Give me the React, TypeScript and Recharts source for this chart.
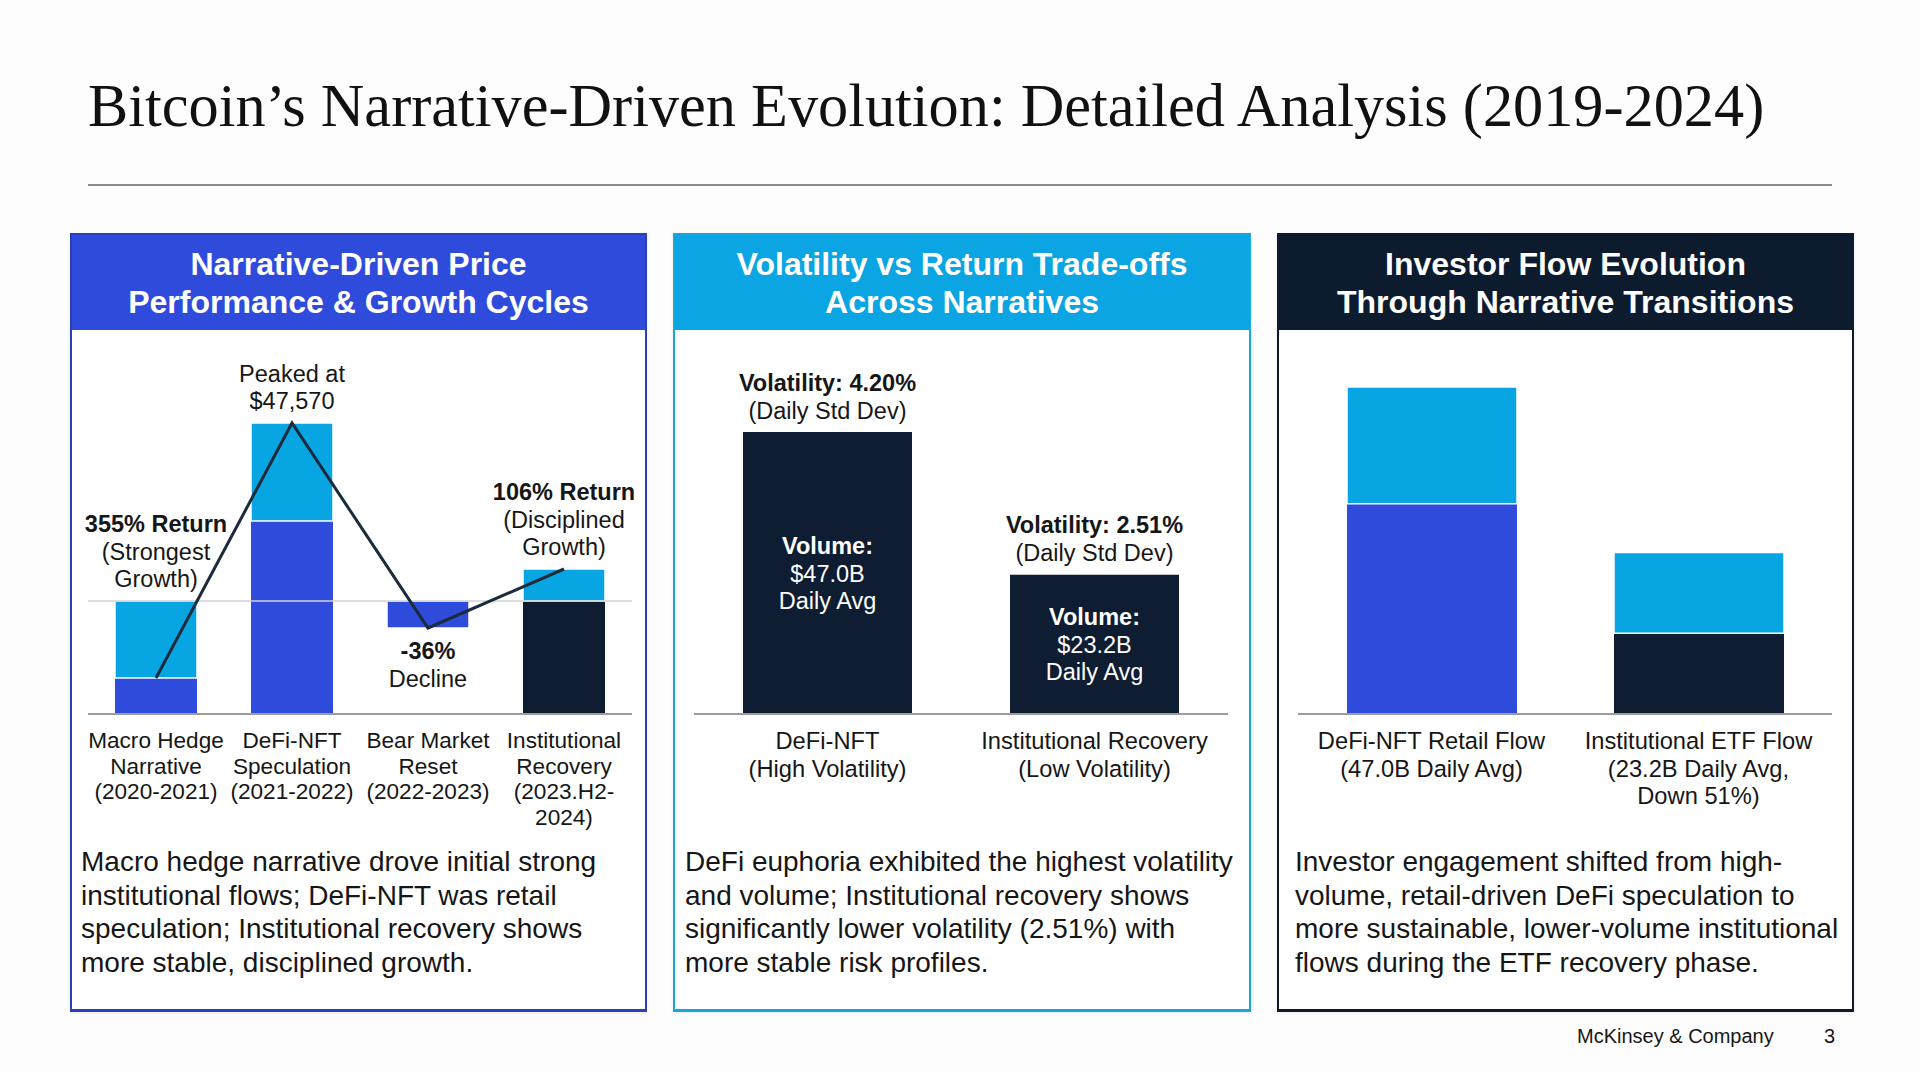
import React from 'react';
import { ComposedChart, BarChart, Bar, Line, XAxis, YAxis, Cell, LabelList, ReferenceLine } from 'recharts';

const ROYAL = '#2E4BDB';
const SKY = '#07A6E3';
const NAVY = '#0E1D32';
const INK = '#161616';
const SANS = '"Liberation Sans", Arial, sans-serif';
const SERIF = '"Liberation Serif", "Times New Roman", serif';

// Narrative cycles: relative price index split into base and growth segments
const cycleNames = [
  'Macro Hedge|Narrative|(2020-2021)',
  'DeFi-NFT|Speculation|(2021-2022)',
  'Bear Market|Reset|(2022-2023)',
  'Institutional|Recovery|(2023.H2-|2024)',
];
const cycleBase = [36, 193, 86, 113];
const cycleGrowth = [77, 98, 27, 32];
const cyclePrice = [36, 291, 86, 145];
const cycleZero = 113;
const cycleBaseColors = [ROYAL, ROYAL, 'transparent', NAVY];
const cycleGrowthColors = [SKY, SKY, ROYAL, SKY];
const cycleNotes = [
  ['355% Return', '(Strongest', 'Growth)'],
  ['Peaked at', '$47,570'],
  ['-36%', 'Decline'],
  ['106% Return', '(Disciplined', 'Growth)'],
];
const cycleNoteBold = [true, false, true, true];
const cycleNoteBelow = [false, false, true, false];

// Volatility vs volume
const volNames = ['DeFi-NFT|(High Volatility)', 'Institutional Recovery|(Low Volatility)'];
const volVolume = [47.0, 23.2];
const volStdDev = ['4.20%', '2.51%'];

// Investor flows (B, daily avg)
const flowNames = ['DeFi-NFT Retail Flow|(47.0B Daily Avg)', 'Institutional ETF Flow|(23.2B Daily Avg,|Down 51%)'];
const flowLower = [30.2, 11.6];
const flowUpper = [16.8, 11.6];
const flowLowerColors = [ROYAL, NAVY];

const panels = [
  {
    left: 70,
    width: 577,
    color: ROYAL,
    border: '#2A40B8',
    title: ['Narrative-Driven Price', 'Performance & Growth Cycles'],
    inset: 11,
    body: [
      'Macro hedge narrative drove initial strong',
      'institutional flows; DeFi-NFT was retail',
      'speculation; Institutional recovery shows',
      'more stable, disciplined growth.',
    ],
  },
  {
    left: 673,
    width: 578,
    color: '#0AA5E2',
    border: '#16A8DA',
    title: ['Volatility vs Return Trade-offs', 'Across Narratives'],
    inset: 12,
    body: [
      'DeFi euphoria exhibited the highest volatility',
      'and volume; Institutional recovery shows',
      'significantly lower volatility (2.51%) with',
      'more stable risk profiles.',
    ],
  },
  {
    left: 1277,
    width: 577,
    color: '#0D1B2E',
    border: '#0D1B2E',
    title: ['Investor Flow Evolution', 'Through Narrative Transitions'],
    inset: 18,
    body: [
      'Investor engagement shifted from high-',
      'volume, retail-driven DeFi speculation to',
      'more sustainable, lower-volume institutional',
      'flows during the ETF recovery phase.',
    ],
  },
];

const cycleData = cycleNames.map((name, i) => ({
  name,
  base: cycleBase[i],
  growth: cycleGrowth[i],
  price: cyclePrice[i],
}));
const volData = volNames.map((name, i) => ({ name, volume: volVolume[i] }));
const flowData = flowNames.map((name, i) => ({ name, lower: flowLower[i], upper: flowUpper[i] }));

const MultiLineTick = (props: any) => {
  const { x, y, payload, fontSize, first, step } = props;
  const lines = String(payload.value).split('|');
  return (
    <text x={x} y={y} textAnchor="middle" fontSize={fontSize} fill={INK} fontFamily={SANS}>
      {lines.map((l, i) => (
        <tspan key={i} x={x} y={y + first + i * step}>
          {l}
        </tspan>
      ))}
    </text>
  );
};

const box = (p: any) => {
  const vb = p.viewBox && p.viewBox.width != null ? p.viewBox : p;
  return { x: Number(vb.x), y: Number(vb.y), w: Number(vb.width), h: Number(vb.height) };
};

const CycleNote = (props: any) => {
  const { index } = props;
  const { x, y, w, h } = box(props);
  const cx = x + w / 2;
  const lines = cycleNotes[index];
  const step = 27.5;
  const startY = cycleNoteBelow[index] ? y + h + 31 : y - 14 - (lines.length - 1) * step;
  return (
    <text x={cx} y={startY} textAnchor="middle" fontSize={23.5} fill={INK} fontFamily={SANS}>
      {lines.map((l, i) => (
        <tspan key={i} x={cx} y={startY + i * step} fontWeight={i === 0 && cycleNoteBold[index] ? 700 : 400}>
          {l}
        </tspan>
      ))}
    </text>
  );
};

const VolumeNote = (props: any) => {
  const { index } = props;
  const { x, y, w, h } = box(props);
  const cx = x + w / 2;
  const mid = y + h / 2;
  return (
    <g fontFamily={SANS} fontSize={23.5} textAnchor="middle">
      <text x={cx} y={y - 41.5} fill={INK} fontWeight={700}>
        {`Volatility: ${volStdDev[index]}`}
      </text>
      <text x={cx} y={y - 13.5} fill={INK}>
        (Daily Std Dev)
      </text>
      <text x={cx} y={mid - 19.5} fill="#fff" fontWeight={700}>
        Volume:
      </text>
      <text x={cx} y={mid + 8.5} fill="#fff">
        {`$${volVolume[index].toFixed(1)}B`}
      </text>
      <text x={cx} y={mid + 36} fill="#fff">
        Daily Avg
      </text>
    </g>
  );
};

const axisLine = { stroke: '#9c9c9c', strokeWidth: 2 };

const CycleChart = () => (
  <ComposedChart width={577} height={520} data={cycleData} margin={{ top: 84, right: 15, left: 18, bottom: 0 }} barSize={82}>
    <XAxis
      dataKey="name"
      interval={0}
      height={136}
      tickLine={false}
      tickSize={0}
      tickMargin={0}
      axisLine={axisLine}
      tick={(p: any) => <MultiLineTick {...p} fontSize={22.6} first={34} step={25.7} />}
    />
    <YAxis hide domain={[0, 300]} />
    <Bar dataKey="base" stackId="c" isAnimationActive={false}>
      {cycleData.map((_, i) => (
        <Cell key={i} fill={cycleBaseColors[i]} />
      ))}
    </Bar>
    <Bar dataKey="growth" stackId="c" stroke="#ffffff" strokeWidth={1.5} isAnimationActive={false}>
      {cycleData.map((_, i) => (
        <Cell key={i} fill={cycleGrowthColors[i]} />
      ))}
      <LabelList dataKey="growth" content={(p: any) => <CycleNote {...p} />} />
    </Bar>
    <ReferenceLine y={cycleZero} stroke="#d2d2d2" strokeWidth={1.5} />
    <Line
      type="linear"
      dataKey="price"
      stroke="#1B2A3C"
      strokeWidth={3}
      dot={false}
      activeDot={false}
      isAnimationActive={false}
    />
  </ComposedChart>
);

const VolatilityChart = () => (
  <BarChart width={578} height={520} data={volData} margin={{ top: 84, right: 23, left: 21, bottom: 0 }} barSize={169}>
    <XAxis
      dataKey="name"
      interval={0}
      height={136}
      tickLine={false}
      tickSize={0}
      tickMargin={0}
      axisLine={axisLine}
      tick={(p: any) => <MultiLineTick {...p} fontSize={23.7} first={35} step={27.6} />}
    />
    <YAxis hide domain={[0, 50]} />
    <Bar dataKey="volume" fill={NAVY} isAnimationActive={false}>
      <LabelList dataKey="volume" content={(p: any) => <VolumeNote {...p} />} />
    </Bar>
  </BarChart>
);

const FlowChart = () => (
  <BarChart width={577} height={520} data={flowData} margin={{ top: 36, right: 22, left: 21, bottom: 0 }} barSize={170}>
    <XAxis
      dataKey="name"
      interval={0}
      height={136}
      tickLine={false}
      tickSize={0}
      tickMargin={0}
      axisLine={axisLine}
      tick={(p: any) => <MultiLineTick {...p} fontSize={23.7} first={35} step={27.6} />}
    />
    <YAxis hide domain={[0, 50]} />
    <Bar dataKey="lower" stackId="f" isAnimationActive={false}>
      {flowData.map((_, i) => (
        <Cell key={i} fill={flowLowerColors[i]} />
      ))}
    </Bar>
    <Bar dataKey="upper" stackId="f" fill={SKY} stroke="#ffffff" strokeWidth={1.5} isAnimationActive={false} />
  </BarChart>
);

const charts = [<CycleChart />, <VolatilityChart />, <FlowChart />];

export default function App() {
  return (
    <div
      style={{
        position: 'absolute',
        left: 0,
        top: 0,
        width: 1920,
        height: 1072,
        background: '#fdfdfd',
        overflow: 'hidden',
        fontFamily: SANS,
        color: INK,
      }}
    >
      <div
        style={{
          position: 'absolute',
          left: 88,
          top: 76,
          fontFamily: SERIF,
          fontSize: 60.3,
          lineHeight: '60px',
          whiteSpace: 'nowrap',
          color: '#111',
        }}
      >
        Bitcoin’s Narrative-Driven Evolution: Detailed Analysis (2019-2024)
      </div>
      <div style={{ position: 'absolute', left: 88, top: 184, width: 1744, height: 2, background: '#8a8a8a' }} />

      {panels.map((p, i) => (
        <div
          key={i}
          style={{
            position: 'absolute',
            left: p.left,
            top: 233,
            width: p.width,
            height: 779,
            boxSizing: 'border-box',
            border: `2px solid ${p.border}`,
            borderBottomWidth: 3,
            background: '#ffffff',
            boxShadow: '0 1px 3px rgba(0,0,0,0.08)',
          }}
        >
          <div
            style={{
              height: 95,
              background: p.color,
              color: '#ffffff',
              fontWeight: 700,
              fontSize: 32,
              lineHeight: '38px',
              display: 'flex',
              flexDirection: 'column',
              alignItems: 'center',
              justifyContent: 'center',
              textAlign: 'center',
            }}
          >
            {p.title.map((t, k) => (
              <div key={k}>{t}</div>
            ))}
          </div>
        </div>
      ))}

      {panels.map((p, i) => (
        <div key={`c${i}`} style={{ position: 'absolute', left: p.left, top: 330 }}>
          {charts[i]}
        </div>
      ))}

      {panels.map((p, i) => (
        <div
          key={`b${i}`}
          style={{
            position: 'absolute',
            left: p.left + p.inset,
            top: 845,
            fontSize: 28,
            lineHeight: '33.6px',
            whiteSpace: 'nowrap',
            color: INK,
          }}
        >
          {p.body.map((l, k) => (
            <div key={k}>{l}</div>
          ))}
        </div>
      ))}

      <div style={{ position: 'absolute', left: 1577, top: 1023, fontSize: 20, lineHeight: '26px', color: INK }}>
        McKinsey &amp; Company
      </div>
      <div style={{ position: 'absolute', left: 1824, top: 1023, fontSize: 20, lineHeight: '26px', color: INK }}>
        3
      </div>
    </div>
  );
}
